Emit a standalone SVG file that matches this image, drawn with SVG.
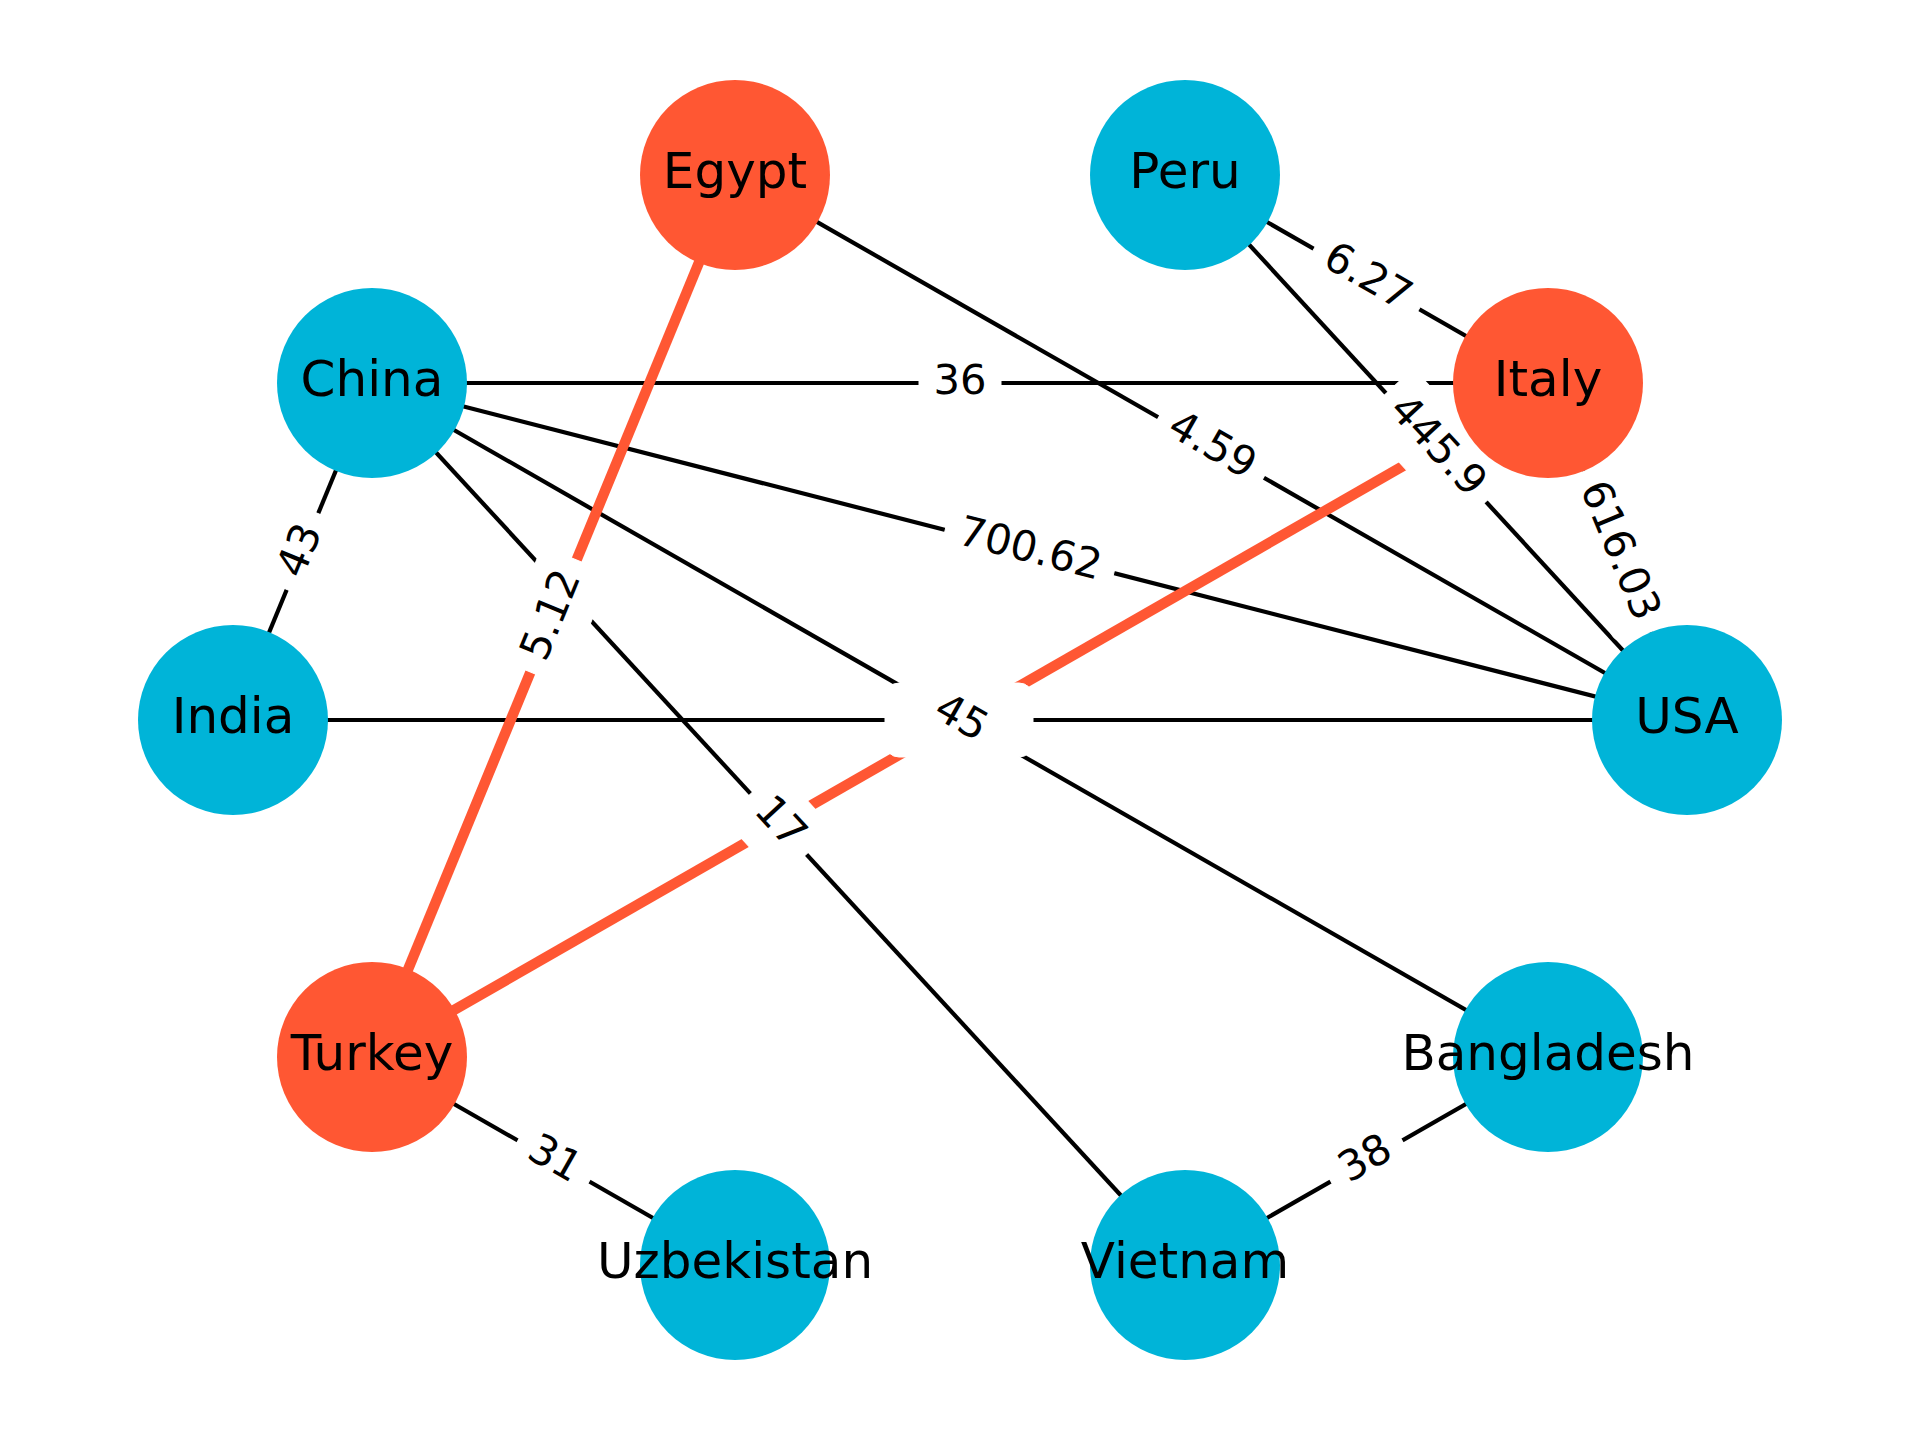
<svg xmlns="http://www.w3.org/2000/svg" width="1920" height="1440" viewBox="0 0 1920 1440">
  <style>
    .edge { stroke: #000000; stroke-width: 4.2; fill: none; }
    .hot { stroke: #FF5733; stroke-width: 10.4; fill: none; }
    .lbox { fill: #ffffff; stroke: #ffffff; stroke-width: 1; }
    .ltxt { font-family: "DejaVu Sans", "Liberation Sans", sans-serif; font-size: 41.7px; fill: #000000; text-anchor: middle; }
    .blue { fill: #00B4D8; }
    .orange { fill: #FF5733; }
    .ntxt { font-family: "DejaVu Sans", "Liberation Sans", sans-serif; font-size: 50px; fill: #000000; text-anchor: middle; }
  </style>
  <rect width="1920" height="1440" fill="#ffffff"/>

  <!-- connectors, drawn centre to centre beneath the nodes -->
  <g id="edges">
    <line class="edge" x1="735" y1="175" x2="1687" y2="720"/>
    <line class="edge" x1="1185" y1="175" x2="1548" y2="383"/>
    <line class="edge" x1="1185" y1="175" x2="1687" y2="720"/>
    <line class="edge" x1="372" y1="383" x2="1548" y2="383"/>
    <line class="edge" x1="372" y1="383" x2="1687" y2="720"/>
    <line class="edge" x1="372" y1="383" x2="1548" y2="1057"/>
    <line class="edge" x1="372" y1="383" x2="1185" y2="1265"/>
    <line class="edge" x1="372" y1="383" x2="233" y2="720"/>
    <line class="edge" x1="233" y1="720" x2="1687" y2="720"/>
    <line class="edge" x1="1548" y1="383" x2="1687" y2="720"/>
    <line class="edge" x1="372" y1="1057" x2="735" y2="1265"/>
    <line class="edge" x1="1548" y1="1057" x2="1185" y2="1265"/>
    <line class="hot" x1="735" y1="175" x2="372" y2="1057"/>
    <line class="hot" x1="1548" y1="383" x2="372" y2="1057"/>
  </g>

  <!-- edge weight labels on white rounded boxes -->
  <g id="edge-labels">
    <g transform="translate(553.5,616) rotate(-67.63)"><rect class="lbox" x="-60.5" y="-37" width="121" height="74" rx="14"/><text class="ltxt" y="10.5">5.12</text></g>
    <g transform="translate(1211,447.5) rotate(29.79)"><rect class="lbox" x="-60.5" y="-37" width="121" height="74" rx="14"/><text class="ltxt" y="10.5">4.59</text></g>
    <g transform="translate(1366.5,279) rotate(29.81)"><rect class="lbox" x="-60.5" y="-37" width="121" height="74" rx="14"/><text class="ltxt" y="10.5">6.27</text></g>
    <g transform="translate(1436,447.5) rotate(47.35)"><rect class="lbox" x="-73.5" y="-37" width="147" height="74" rx="14"/><text class="ltxt" y="10.5">445.9</text></g>
    <g transform="translate(960,383)"><rect class="lbox" x="-41" y="-37" width="82" height="74" rx="14"/><text class="ltxt" y="10.5">36</text></g>
    <g transform="translate(1029.5,551.5) rotate(14.37)"><rect class="lbox" x="-87" y="-37" width="174" height="74" rx="14"/><text class="ltxt" y="10.5">700.62</text></g>
    <g transform="translate(778.5,824) rotate(47.33)"><rect class="lbox" x="-41" y="-37" width="82" height="74" rx="14"/><text class="ltxt" y="10.5">17</text></g>
    <g transform="translate(302.5,551.5) rotate(-67.58)"><rect class="lbox" x="-41" y="-37" width="82" height="74" rx="14"/><text class="ltxt" y="10.5">43</text></g>
    <g transform="translate(1617.5,551.5) rotate(67.58)"><rect class="lbox" x="-87" y="-37" width="174" height="74" rx="14"/><text class="ltxt" y="10.5">616.03</text></g>
    <g transform="translate(553.5,1161) rotate(29.81)"><rect class="lbox" x="-41" y="-37" width="82" height="74" rx="14"/><text class="ltxt" y="10.5">31</text></g>
    <g transform="translate(1366.5,1161) rotate(-29.81)"><rect class="lbox" x="-41" y="-37" width="82" height="74" rx="14"/><text class="ltxt" y="10.5">38</text></g>
    <!-- three labels share the centre point; only the last one stays readable -->
    <g transform="translate(959,720)"><rect class="lbox" x="-74" y="-37" width="148" height="74" rx="14"/></g>
    <g transform="translate(960,720) rotate(-29.81)"><rect class="lbox" x="-55" y="-30" width="110" height="60" rx="14"/></g>
    <g transform="translate(960,720) rotate(29.82)"><rect class="lbox" x="-41" y="-37" width="82" height="74" rx="14"/><text class="ltxt" y="10.5">45</text></g>
  </g>

  <!-- nodes -->
  <g id="node-egypt"><circle class="orange" cx="735" cy="175" r="95"/><text class="ntxt" x="735" y="188">Egypt</text></g>
  <g id="node-peru"><circle class="blue" cx="1185" cy="175" r="95"/><text class="ntxt" x="1185" y="188">Peru</text></g>
  <g id="node-china"><circle class="blue" cx="372" cy="383" r="95"/><text class="ntxt" x="372" y="396">China</text></g>
  <g id="node-italy"><circle class="orange" cx="1548" cy="383" r="95"/><text class="ntxt" x="1548" y="396">Italy</text></g>
  <g id="node-india"><circle class="blue" cx="233" cy="720" r="95"/><text class="ntxt" x="233" y="733">India</text></g>
  <g id="node-usa"><circle class="blue" cx="1687" cy="720" r="95"/><text class="ntxt" x="1687" y="733">USA</text></g>
  <g id="node-turkey"><circle class="orange" cx="372" cy="1057" r="95"/><text class="ntxt" x="372" y="1070">Turkey</text></g>
  <g id="node-bangladesh"><circle class="blue" cx="1548" cy="1057" r="95"/><text class="ntxt" x="1548" y="1070">Bangladesh</text></g>
  <g id="node-uzbekistan"><circle class="blue" cx="735" cy="1265" r="95"/><text class="ntxt" x="735" y="1278">Uzbekistan</text></g>
  <g id="node-vietnam"><circle class="blue" cx="1185" cy="1265" r="95"/><text class="ntxt" x="1185" y="1278">Vietnam</text></g>
</svg>
